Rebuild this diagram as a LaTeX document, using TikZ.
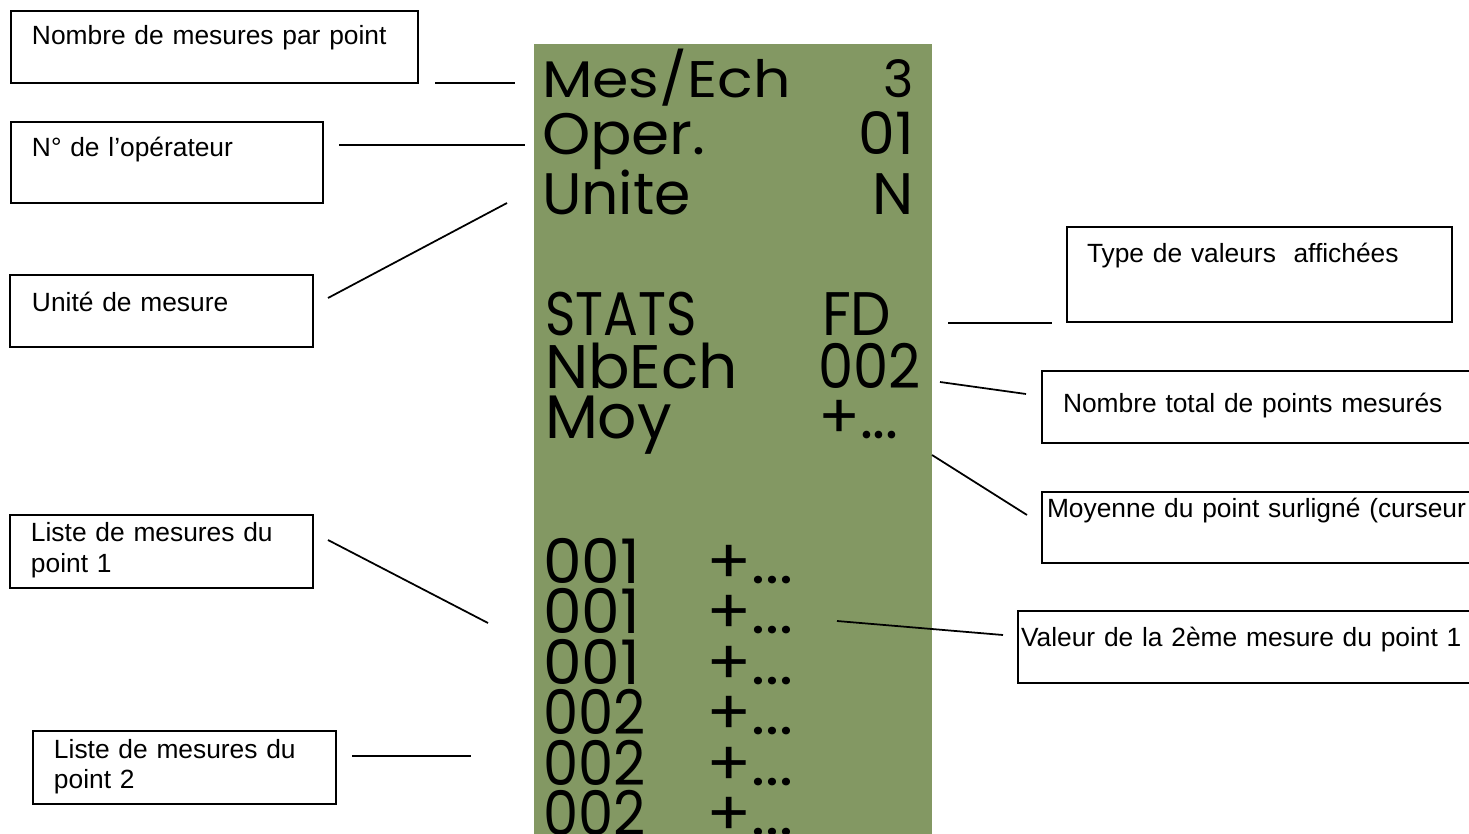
\documentclass[tikz,border=0pt]{standalone}
\usepackage{fontspec}
\setmainfont{Liberation Sans}
\newfontfamily\lcd{Poppins}
\usepackage{tikz}
\usetikzlibrary{positioning}
\definecolor{cLcd}{RGB}{131,152,99}
\tikzset{
    legende/.style={rectangle, draw=black, line width=1pt, anchor=north west, align=left, inner ysep=0pt, outer sep=0pt, font=\fontsize{15}{17.1}\selectfont},
    trait/.style={line width=1pt},
    ecran/.style={inner sep=0pt, outer sep=0pt},
}

\begin{document}
\begin{tikzpicture}[x=0.02cm, y=-0.02cm,
        petit/.style={ecran, font=\lcd\fontsize{29.3}{30}\selectfont},
        moyen/.style={ecran, font=\lcd\fontsize{33.3}{34}\selectfont},
        grand/.style={ecran, font=\lcd\fontsize{35}{36}\selectfont}]
    \useasboundingbox (0,0) rectangle (1469,834);
    \clip (0,0) rectangle (1469,834);
    \fill[cLcd] (534,44) rectangle (932,840);
    % afficheur
    \node[petit, anchor=base west] (mesech) at (542,98) {\scalebox{1.14}[1]{Mes/Ech}};
    \node[petit, anchor=base east] (mesechval) at (914,98) {3};
    \node[moyen, anchor=base west] (oper) at (542,155) {\scalebox{1.05}[1]{Oper.}};
    \node[moyen, anchor=base east] (operval) at (914,155) {01};
    \node[moyen, anchor=base west] (unite) at (542,215) {Unite};
    \node[moyen, anchor=base east] (uniteval) at (914,215) {N};
    \node[grand, anchor=base west] (stats) at (545,335) {\scalebox{0.84}[1]{STATS}};
    \node[grand, anchor=base west] (statsval) at (822,335) {\scalebox{0.93}[1]{FD}};
    \node[grand, anchor=base west] (nbech) at (545,388) {NbEch};
    \node[grand, anchor=base west] (nbechval) at (818,388) {\scalebox{0.91}[1]{002}};
    \node[grand, anchor=base west] (moy) at (545,438) {Moy};
    \node[grand, anchor=base west] (moyval) at (818,438) {+...};
    \foreach \num/\sx [count=\i from 0] in {001/1,001/1,001/1,002/0.91,002/0.91,002/0.91} {
        \node[grand, anchor=base west] (pt\i) at (543,583+50.5*\i) {\scalebox{\sx}[1]{\num}};
        \node[grand, anchor=base west] (val\i) at (706,583+50.5*\i) {\scalebox{1.08}[1]{+...}};
    }
    % legendes
    \node[legende, inner xsep=0.42cm, text width=7.30cm, text height=0.68cm, text depth=0.76cm] (nbmes) at (11,11)
        {Nombre de mesures par point};
    \node[legende, inner xsep=0.42cm, text width=5.40cm, text height=0.70cm, text depth=0.92cm] (numop) at (11,122)
        {N° de l’opérateur};
    \node[legende, inner xsep=0.44cm, text width=5.18cm, text height=0.74cm, text depth=0.70cm] (unmes) at (10,275)
        {Unité de mesure};
    \node[legende, inner xsep=0.42cm, text width=5.22cm, text height=0.54cm, text depth=0.92cm] (liste1) at (10,515)
        {Liste de mesures du\\point 1};
    \node[legende, inner xsep=0.42cm, text width=5.22cm, text height=0.54cm, text depth=0.92cm] (liste2) at (33,731)
        {Liste de mesures du\\point 2};
    \node[legende, inner xsep=0.40cm, text width=6.90cm, text height=0.72cm, text depth=1.18cm] (typeval) at (1067,227)
        {Type de valeurs~ affichées};
    \node[legende, inner xsep=0.42cm, text width=8.32cm, text height=0.84cm, text depth=0.60cm] (nbtot) at (1042,371)
        {Nombre total de points mesurés};
    \node[legende, inner xsep=0.10cm, text width=8.96cm, text height=0.52cm, text depth=0.90cm] (moypt) at (1042,492)
        {Moyenne du point surligné (curseur};
    \node[legende, inner xsep=0.06cm, text width=9.52cm, text height=0.72cm, text depth=0.72cm] (val2) at (1018,611)
        {Valeur de la 2ème mesure du point 1};
    % traits
    \coordinate (t1a) at (435,83);   \coordinate (t1b) at (515,83);
    \coordinate (t2a) at (339,145);  \coordinate (t2b) at (525,145);
    \coordinate (t3a) at (328,298);  \coordinate (t3b) at (507,203);
    \coordinate (t4a) at (328,540);  \coordinate (t4b) at (488,623);
    \coordinate (t5a) at (352,756);  \coordinate (t5b) at (471,756);
    \coordinate (t6a) at (948,323);  \coordinate (t6b) at (1052,323);
    \coordinate (t7a) at (940,382);  \coordinate (t7b) at (1026,394);
    \coordinate (t8a) at (932,455);  \coordinate (t8b) at (1027,515);
    \coordinate (t9a) at (837,621);  \coordinate (t9b) at (1003,635);
    \foreach \t in {1,...,9}
        \draw[trait] (t\t a) -- (t\t b);
\end{tikzpicture}
\end{document}
